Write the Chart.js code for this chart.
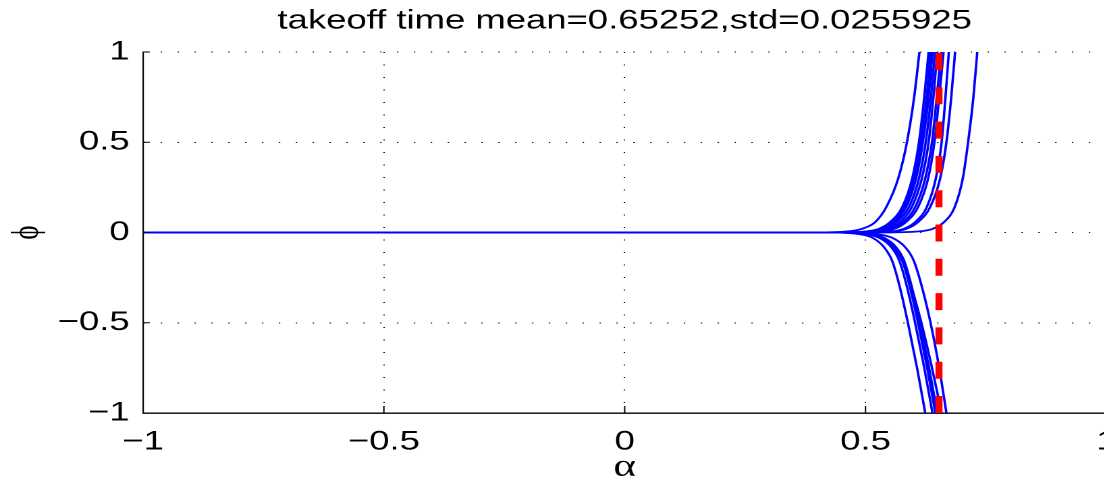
<!DOCTYPE html>
<html>
<head>
<meta charset="utf-8">
<script src="https://cdn.jsdelivr.net/npm/chart.js@4.4.1/dist/chart.umd.min.js"></script>
<style>
  html, body { margin: 0; padding: 0; background: #fff; overflow: hidden; }
  /* the reference figure is stretched sideways, so the whole chart is drawn narrow and widened */
  #wrap { width: 840px; height: 483px; transform: scaleX(1.35); transform-origin: 0 0; }
</style>
</head>
<body>
<div id="wrap"><canvas id="myChart"></canvas></div>
<script>
// takeoff statistics from the title
const takeoffMean = 0.65252;
const takeoffStd = 0.0255925;

// axis ticks
const alphaTicks = [-1, -0.5, 0, 0.5, 1];
const phiTicks = [-1, -0.5, 0, 0.5, 1];

const phiUp = [0, 0, 0.005, 0.02, 0.06, 0.14, 0.3, 0.5, 0.75, 1];
const phiDown = [0, 0, -0.01, -0.03, -0.08, -0.155, -0.3, -0.5, -0.75, -1];

// alpha at those levels, one row per curve going up
const alphaUp = [
    [-1, 0.384, 0.456, 0.492, 0.521, 0.543, 0.568, 0.586, 0.601, 0.612],
    [-1, 0.434, 0.496, 0.527, 0.552, 0.576, 0.597, 0.611, 0.622, 0.631],
    [-1, 0.438, 0.500, 0.531, 0.556, 0.580, 0.601, 0.615, 0.627, 0.635],
    [-1, 0.442, 0.504, 0.535, 0.560, 0.584, 0.605, 0.619, 0.631, 0.639],
    [-1, 0.448, 0.510, 0.542, 0.566, 0.590, 0.611, 0.625, 0.636, 0.644],
    [-1, 0.454, 0.517, 0.548, 0.573, 0.596, 0.617, 0.631, 0.641, 0.649],
    [-1, 0.461, 0.523, 0.554, 0.579, 0.603, 0.624, 0.638, 0.648, 0.657],
    [-1, 0.467, 0.529, 0.560, 0.585, 0.609, 0.630, 0.643, 0.653, 0.662],
    [-1, 0.485, 0.548, 0.579, 0.604, 0.627, 0.646, 0.658, 0.666, 0.673],
    [-1, 0.492, 0.554, 0.585, 0.610, 0.634, 0.655, 0.668, 0.678, 0.686],
    [-1, 0.525, 0.604, 0.639, 0.664, 0.685, 0.702, 0.713, 0.724, 0.732]
];

// and the curves going down
const alphaDown = [
    [-1, 0.425, 0.488, 0.515, 0.538, 0.555, 0.571, 0.588, 0.607, 0.624],
    [-1, 0.440, 0.502, 0.529, 0.553, 0.570, 0.586, 0.603, 0.622, 0.639],
    [-1, 0.446, 0.509, 0.535, 0.559, 0.576, 0.592, 0.609, 0.628, 0.645],
    [-1, 0.450, 0.513, 0.539, 0.563, 0.580, 0.596, 0.613, 0.632, 0.649],
    [-1, 0.436, 0.500, 0.529, 0.556, 0.576, 0.595, 0.616, 0.638, 0.658],
    [-1, 0.460, 0.527, 0.556, 0.582, 0.600, 0.617, 0.635, 0.653, 0.668]
];

const FONT = '"Liberation Sans", Arial, Helvetica, sans-serif';

function fmt(v) {
    if (v === 0) return '0';
    return (v < 0 ? '\u2212' : '') + Math.abs(v);
}

function curve(alphas, phis) {
    return {
        data: alphas.map((a, i) => ({x: a, y: phis[i]})),
        borderColor: '#0000ff',
        borderWidth: 1.8,
        pointRadius: 0,
        fill: false,
        cubicInterpolationMode: 'monotone'
    };
}

// red dashed line first so it sits on top of the blue curves
let datasets = [{
    data: [{x: takeoffMean, y: -1}, {x: takeoffMean, y: 1}],
    borderColor: '#ff0000',
    borderWidth: 5.2,
    borderDash: [17, 17.3],
    borderCapStyle: 'butt',
    pointRadius: 0,
    fill: false
}];
alphaUp.forEach(a => datasets.push(curve(a, phiUp)));
alphaDown.forEach(a => datasets.push(curve(a, phiDown)));

// MATLAB style tick marks pointing into the plot
const innerTicks = {
    id: 'innerTicks',
    afterDatasetsDraw(chart) {
        const {ctx, chartArea, scales: {x, y}} = chart;
        ctx.save();
        ctx.strokeStyle = '#000';
        ctx.lineWidth = 1;
        ctx.beginPath();
        x.ticks.forEach(t => {
            const px = x.getPixelForValue(t.value);
            ctx.moveTo(px, chartArea.bottom);
            ctx.lineTo(px, chartArea.bottom - 7);
        });
        y.ticks.forEach(t => {
            const py = y.getPixelForValue(t.value);
            ctx.moveTo(chartArea.left, py);
            ctx.lineTo(chartArea.left + 5, py);
        });
        ctx.stroke();
        ctx.restore();
    }
};

const config = {
    type: 'line',
    data: {datasets},
    options: {
        responsive: true,
        maintainAspectRatio: false,
        devicePixelRatio: 2,
        animation: false,
        parsing: false,
        layout: {padding: {left: 0, right: 20, top: 0, bottom: 0}},
        plugins: {
            legend: {display: false},
            tooltip: {enabled: false},
            title: {
                display: true,
                fullSize: false,
                text: 'takeoff time mean=' + takeoffMean + ',std=' + takeoffStd,
                color: '#000',
                font: {family: FONT, size: 27, weight: 'normal', lineHeight: 1.2},
                padding: {top: 5, bottom: 14.6}
            }
        },
        scales: {
            x: {
                type: 'linear',
                min: -1,
                max: 1,
                afterBuildTicks: s => { s.ticks = alphaTicks.map(v => ({value: v})); },
                afterFit: s => { s.height = 70; },
                ticks: {
                    color: '#000',
                    font: {family: FONT, size: 27},
                    padding: 13,
                    maxRotation: 0,
                    callback: v => fmt(v)
                },
                grid: {color: '#000', lineWidth: 1, drawTicks: false},
                border: {display: true, color: '#000', width: 1.4, dash: [1, 11.5]},
                title: {
                    display: true,
                    text: 'α',
                    color: '#000',
                    font: {family: '"Liberation Serif", "DejaVu Serif", serif', size: 32, lineHeight: 1},
                    padding: {top: 0, bottom: 0}
                }
            },
            y: {
                type: 'linear',
                min: -1,
                max: 1,
                afterBuildTicks: s => { s.ticks = phiTicks.map(v => ({value: v})); },
                afterFit: s => { s.width = 106; },
                ticks: {
                    color: '#000',
                    font: {family: FONT, size: 27},
                    padding: 10,
                    callback: v => fmt(v)
                },
                grid: {color: '#000', lineWidth: 1, drawTicks: false},
                border: {display: true, color: '#000', width: 1.1, dash: [1, 11.5]},
                title: {
                    display: true,
                    text: 'ϕ',
                    color: '#000',
                    font: {family: '"Liberation Serif", "DejaVu Serif", serif', size: 27},
                    padding: {top: 4, bottom: 0}
                }
            }
        }
    },
    plugins: [innerTicks]
};

var myChart = new Chart(document.getElementById('myChart'), config);
</script>
</body>
</html>
